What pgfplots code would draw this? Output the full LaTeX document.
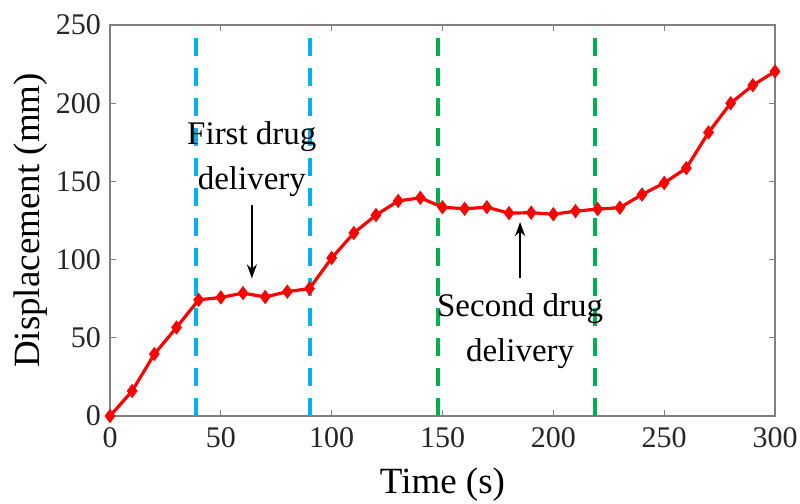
\documentclass[border=0pt]{standalone}
\usepackage{fontspec}
\setmainfont{Liberation Serif}
\usepackage{pgfplots}
\pgfplotsset{compat=1.18}
\usetikzlibrary{arrows.meta,calc}

\definecolor{linered}{RGB}{255,0,0}
\definecolor{markblue}{RGB}{0,176,240}
\definecolor{markgreen}{RGB}{0,176,80}
\definecolor{axisgray}{RGB}{128,128,128}

\begin{document}
\begin{tikzpicture}
\begin{axis}[
  name=ax,
  scale only axis,
  width=332.5pt, height=195.5pt,
  xmin=0, xmax=300, ymin=0, ymax=250,
  xtick={0,50,...,300}, ytick={0,50,...,250},
  tick align=inside,
  major tick length=3pt,
  axis line style={axisgray, line width=0.6pt},
  every tick/.style={axisgray, line width=0.6pt},
  tick label style={font=\fontsize{15}{18}\selectfont, text=black!85},
  /pgf/number format/assume math mode=true,
  xticklabel style={yshift=-2pt},
  yticklabel style={xshift=-1pt},
  xlabel={Time (s)},
  ylabel={Displacement (mm)},
  label style={font=\fontsize{18.5}{22}\selectfont},
  xlabel style={at={(axis description cs:0.5,-0.175)}, anchor=center},
  ylabel style={at={(axis description cs:-0.12,0.5)}, anchor=center, rotate=0},
  clip=false,
]
% drug delivery windows
\addplot[markblue, line width=2pt, dash pattern=on 9pt off 6pt] coordinates {(39,0) (39,250)};
\addplot[markblue, line width=2pt, dash pattern=on 9pt off 6pt] coordinates {(90,0) (90,250)};
\addplot[markgreen, line width=2pt, dash pattern=on 9pt off 6pt] coordinates {(148,0) (148,250)};
\addplot[markgreen, line width=2pt, dash pattern=on 9pt off 6pt] coordinates {(219,0) (219,250)};

% displacement measurements
\addplot[linered, line width=1.6pt, mark=diamond*, mark size=3.2pt,
         mark options={fill=linered, draw=linered, line width=0.5pt}]
  coordinates {
  (0,0) (10,16) (20,39.6) (30,56.6) (40,74.3) (50,75.8) (60,78.6) (70,76.1)
  (80,79.5) (90,81.5) (100,101) (110,117) (120,128.5) (130,137.5) (140,139.5)
  (150,133.5) (160,132.5) (170,133.5) (180,129.7) (190,130) (200,129)
  (210,131) (220,132.3) (230,133.2) (240,141.6) (250,149) (260,158.5)
  (270,181.3) (280,200) (290,211.5) (300,220.3)
  };

% annotations
\node[align=center, font=\fontsize{16.5}{22.5}\selectfont] at (axis cs:64,164) {First drug\\delivery};
\draw[-{Stealth[length=7pt,width=5pt]}, line width=1pt] (axis cs:64,135) -- (axis cs:64,88);
\node[align=center, font=\fontsize{16.5}{22.5}\selectfont] at (axis cs:185,54) {Second drug\\delivery};
\draw[-{Stealth[length=7pt,width=5pt]}, line width=1pt] (axis cs:185,88) -- (axis cs:185,124);
\end{axis}
% page frame with the outer margins around the plot
\pgfresetboundingbox
\path[use as bounding box] ($(ax.south west)+(-55pt,-43.5pt)$) rectangle ($(ax.north east)+(12.5pt,12.5pt)$);
\end{tikzpicture}
\end{document}
